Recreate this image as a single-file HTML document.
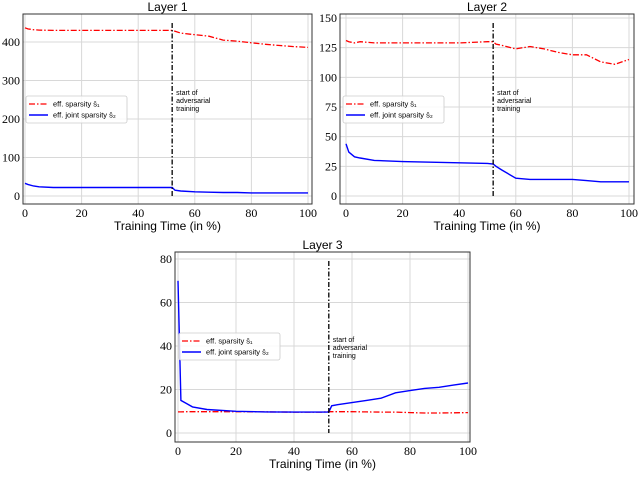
<!DOCTYPE html>
<html><head><meta charset="utf-8"><style>
body{margin:0;background:#fff;}
svg text{font-family:"Liberation Serif",serif;}
.sans{font-family:"Liberation Sans",sans-serif !important;}
</style></head><body>
<svg id="c" width="640" height="474" xmlns="http://www.w3.org/2000/svg"></svg>
<script>
const xs=[0,1,3,5,10,20,30,40,50,52,53,55,60,65,70,75,80,85,90,95,100];
const l1s1=[437,434,432,431,430,430,430,430,430,430,428,423,419,415,405,402,398,394,391,388,386];
const l1s2=[33,30,26,24,22,22,22,22,22,22,15,13,11,10,9,9,8,8,8,8,8];
const l2s1=[131,130,129,130,129,129,129,129,130,130,128,127,124,126,124,121,119,119,113,111,115];
const l2s2=[44,37,33,32,30,29,28.5,28,27.5,27,25,22,15,14,14,14,14,13,12,12,12];
const l3s1=[9.7,9.7,9.8,9.8,9.8,9.8,9.7,9.6,9.6,9.8,9.8,9.8,9.8,9.7,9.6,9.6,9.4,9.2,9.2,9.3,9.4];
const l3s2=[70,15,13.5,12,10.8,10,9.7,9.6,9.6,9.6,12.5,13,14,15,16,18.5,19.5,20.5,21,22,23];
const xTicks=[0,20,40,60,80,100];
const yTicks1=[0,100,200,300,400];
const yTicks2=[0,25,50,75,100,125,150];
const yTicks3=[0,20,40,60,80];
const advStart=52;
const NS="http://www.w3.org/2000/svg";
const svg=document.getElementById('c');
function mk(t,a,p){const e=document.createElementNS(NS,t);for(const k in a)e.setAttribute(k,a[k]);(p||svg).appendChild(e);return e;}
function panel(cfg){
 const g=mk('g',{});
 
 
 const X=v=>cfg.x0+(v-0)*(cfg.x100-cfg.x0)/100;
 const Y=v=>cfg.yb+(v-cfg.ylo)*(cfg.yt-cfg.yb)/(cfg.yhi-cfg.ylo);
 // grid
 xTicks.forEach(t=>{const l=mk('line',{x1:X(t),x2:X(t),y1:cfg.top,y2:cfg.bot,stroke:'#d8d8d8','stroke-width':1},g);
  
  const tx=mk('text',{x:X(t),y:cfg.bot+13,'text-anchor':'middle','font-size':12},g);tx.textContent=t;
  });
 cfg.yticks.forEach(t=>{const l=mk('line',{x1:cfg.left,x2:cfg.right,y1:Y(t),y2:Y(t),stroke:'#d8d8d8','stroke-width':1},g);
  
  const tx=mk('text',{x:cfg.left-3,y:Y(t)+4,'text-anchor':'end','font-size':12},g);tx.textContent=t;
  });
 const fr=mk('rect',{x:cfg.left,y:cfg.top,width:cfg.right-cfg.left,height:cfg.bot-cfg.top,fill:'none',stroke:'#333','stroke-width':1},g);
 
 const pts=a=>xs.map((x,i)=>X(x).toFixed(1)+','+Y(a[i]).toFixed(1)).join(' ');
 const p1=mk('polyline',{points:pts(cfg.s1),fill:'none',stroke:'#ff0000','stroke-width':1.3,'stroke-dasharray':'6,2,1.5,2'},g);
 
 const p2=mk('polyline',{points:pts(cfg.s2),fill:'none',stroke:'#0000ff','stroke-width':1.4},g);
 
 const vl=mk('line',{x1:X(advStart),x2:X(advStart),y1:cfg.top+9,y2:Y(cfg.vlBottom),stroke:'#000','stroke-width':1.3,'stroke-dasharray':'5,2,1.5,2'},g);
 
 ['start of','adversarial','training'].forEach((s,i)=>{const t=mk('text',{x:X(advStart)+4,y:cfg.annY+i*8,'font-size':7,class:'sans'},g);t.textContent=s;
  });
 const title=mk('text',{x:(cfg.left+cfg.right)/2,y:cfg.top-3,'text-anchor':'middle','font-size':12,class:'sans'},g);title.textContent=cfg.title;
 
 const xl=mk('text',{x:(cfg.left+cfg.right)/2,y:cfg.bot+26,'text-anchor':'middle','font-size':12,class:'sans'},g);xl.textContent='Training Time (in %)';
 
 // legend
 const lg=mk('g',{},g);
 mk('rect',{x:cfg.lx,y:cfg.ly,width:101,height:27,rx:2,fill:'#fff','fill-opacity':0.85,stroke:'#ccc','stroke-width':0.8},lg);
 mk('line',{x1:cfg.lx+3,x2:cfg.lx+22,y1:cfg.ly+8,y2:cfg.ly+8,stroke:'#f00','stroke-width':1.3,'stroke-dasharray':'6,2,1.5,2'},lg);
 mk('line',{x1:cfg.lx+3,x2:cfg.lx+22,y1:cfg.ly+19,y2:cfg.ly+19,stroke:'#00f','stroke-width':1.4},lg);
 const e1=mk('text',{x:cfg.lx+27,y:cfg.ly+10.5,'font-size':7.5,class:'sans'},lg);e1.textContent='eff. sparsity s̄₁';
 
 const e2=mk('text',{x:cfg.lx+27,y:cfg.ly+21.5,'font-size':7.5,class:'sans'},lg);e2.textContent='eff. joint sparsity s̄₂';
 
}
panel({name:'layer-1-chart',title:'Layer 1',left:23,right:312,top:14,bot:204,x0:25,x100:308,yb:196,yt:42,ylo:0,yhi:400,yticks:yTicks1,s1:l1s1,s2:l1s2,vlBottom:0,annY:95,lx:26,ly:96});
panel({name:'layer-2-chart',title:'Layer 2',left:340,right:634,top:14,bot:204,x0:346,x100:629,yb:196,yt:18,ylo:0,yhi:150,yticks:yTicks2,s1:l2s1,s2:l2s2,vlBottom:0,annY:95,lx:343,ly:96});
panel({name:'layer-3-chart',title:'Layer 3',left:175,right:470,top:252,bot:442,x0:178,x100:468,yb:433,yt:259,ylo:0,yhi:80,yticks:yTicks3,s1:l3s1,s2:l3s2,vlBottom:0,annY:342,lx:179,ly:333});
</script>
</body></html>
